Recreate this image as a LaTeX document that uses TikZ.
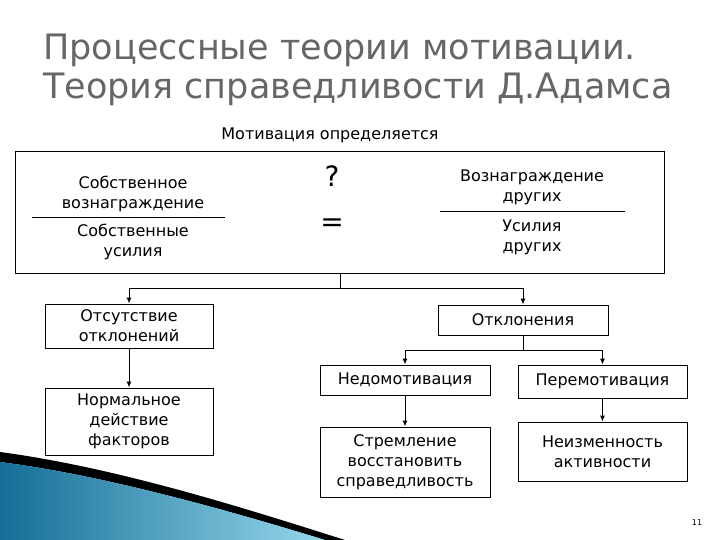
\documentclass[tikz,border=0pt]{standalone}
\usepackage{fontspec}
\setmainfont{DejaVu Sans}
\usetikzlibrary{arrows.meta}
\definecolor{tealdark}{RGB}{20,110,150}
\definecolor{teallight}{RGB}{150,215,235}
\begin{document}
\begin{tikzpicture}[x=1pt,y=-1pt,
  box/.style={draw,line width=1pt,fill=white,inner sep=0pt,align=center,font=\fontsize{16}{20}\selectfont},
  lbl/.style={inner sep=0pt,align=center,font=\fontsize{16}{20}\selectfont},
  arr/.style={line width=1pt,-{Latex[length=6pt,width=5pt]}},
  ln/.style={line width=1pt}]
\useasboundingbox (0,0) rectangle (720,540);
% decoration
\fill[black] (0,452) .. controls (120,468) and (250,510) .. (345,540) -- (325,540) .. controls (240,514) and (110,476) .. (0,462) -- cycle;
\shade[left color=tealdark, right color=teallight] (0,462) .. controls (110,476) and (240,514) .. (325,540) -- (0,540) -- cycle;
% title
\node[anchor=west,text=black!60,inner sep=0pt,font=\fontsize{35}{42}\selectfont] (t1) at (43,50) {Процессные теории мотивации.};
\node[anchor=west,text=black!60,inner sep=0pt,font=\fontsize{35}{42}\selectfont] (t2) at (43,89) {Теория справедливости Д.Адамса};
\node[lbl] (mot) at (330,135) {Мотивация определяется};
% big box
\node[box,minimum width=649pt,minimum height=121pt] (big) at (339.5,212.5) {};
\node[lbl] (ov) at (133,194) {Собственное\\вознаграждение};
\node[lbl] (ou) at (133,242) {Собственные\\усилия};
\coordinate (l1a) at (32,218); \coordinate (l1b) at (225,218);
\draw[ln] (l1a) -- (l1b);
\node[lbl,font=\fontsize{28}{32}\selectfont] (q) at (332,176) {?};
\node[lbl,font=\fontsize{28}{32}\selectfont] (eq) at (332,225) {=};
\node[lbl] (dv) at (532,187) {Вознаграждение\\других};
\node[lbl] (du) at (532,237) {Усилия\\других};
\coordinate (l2a) at (440,212); \coordinate (l2b) at (625,212);
\draw[ln] (l2a) -- (l2b);
% level 2
\node[box,minimum width=168pt,minimum height=44pt] (otsut) at (129,326) {Отсутствие\\отклонений};
\node[box,minimum width=170pt,minimum height=30pt] (otkl) at (523,320) {Отклонения};
\node[box,minimum width=168pt,minimum height=67pt] (norm) at (129,421.5) {Нормальное\\действие\\факторов};
\node[box,minimum width=170pt,minimum height=30pt] (nedo) at (405,380) {Недомотивация};
\node[box,minimum width=169pt,minimum height=33pt] (pere) at (602.5,381.5) {Перемотивация};
\node[box,minimum width=170pt,minimum height=70pt] (strem) at (405,462) {Стремление\\восстановить\\справедливость};
\node[box,minimum width=169pt,minimum height=59pt] (neizm) at (602.5,451.5) {Неизменность\\активности};
% connectors
\coordinate (j1) at (340,288);
\draw[ln] (big.south -| j1) -- (j1);
\draw[arr] (j1) -| (otsut.north);
\draw[arr] (j1) -| (otkl.north);
\draw[arr] (otsut) -- (norm);
\coordinate (j2) at (523,350);
\draw[ln] (otkl.south) -- (j2);
\draw[arr] (j2) -| (nedo.north);
\draw[arr] (j2) -| (pere.north);
\draw[arr] (nedo) -- (strem);
\draw[arr] (pere) -- (neizm);
\node[inner sep=0pt,font=\fontsize{8}{10}\selectfont] (pg) at (697,523) {11};
\end{tikzpicture}
\end{document}
